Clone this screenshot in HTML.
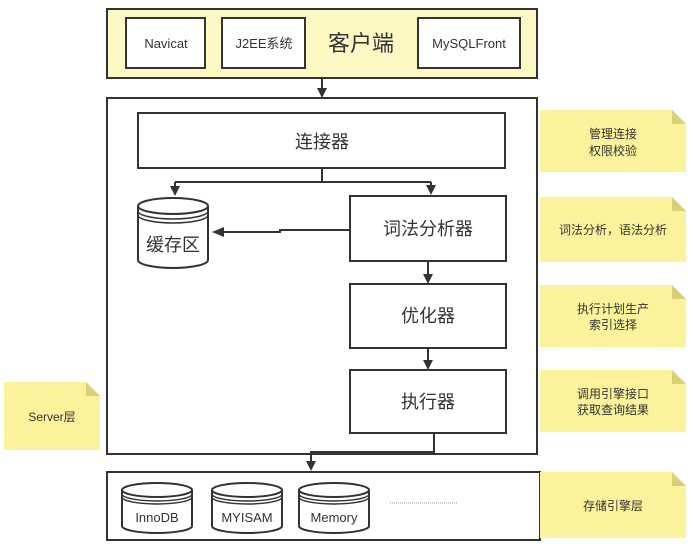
<!DOCTYPE html>
<html><head><meta charset="utf-8"><style>
html,body{margin:0;padding:0;background:#fff;width:694px;height:548px;overflow:hidden}
svg text{font-family:"Liberation Sans","Noto Sans CJK SC",sans-serif;fill:#333;text-anchor:middle}
</style></head><body>
<svg width="694" height="548" viewBox="0 0 694 548" xmlns="http://www.w3.org/2000/svg">
<g stroke="#333" stroke-width="2" fill="none">
<rect x="107" y="9" width="430" height="69" fill="#fdf8c4"/>
<rect x="126" y="18" width="79" height="50" fill="#fff"/>
<rect x="222" y="18" width="83" height="50" fill="#fff"/>
<rect x="418" y="18" width="102" height="50" fill="#fff"/>
<rect x="107" y="98" width="430" height="356" fill="#fff"/>
<rect x="138" y="113" width="367" height="55"/>
<rect x="350" y="196" width="156" height="65"/>
<rect x="350" y="284" width="156" height="64"/>
<rect x="350" y="370" width="156" height="63"/>
<rect x="107" y="472" width="433" height="68"/>
<line x1="322" y1="78" x2="322" y2="90"/>
<polyline points="322,168 322,182"/>
<line x1="175" y1="182" x2="431" y2="182"/>
<line x1="175" y1="182" x2="175" y2="188"/>
<line x1="431" y1="182" x2="431" y2="187"/>
<polyline points="350,230 280,230 280,232 222,232"/>
<line x1="428" y1="261" x2="428" y2="276"/>
<line x1="428" y1="348" x2="428" y2="362"/>
<polyline points="434,433 434,452 311,452 311,462"/>
</g>
<g fill="#333">
<path d="M317,88 L327,88 L322,98 z"/>
<path d="M170,186 L180,186 L175,196 z"/>
<path d="M426,185 L436,185 L431,195 z"/>
<path d="M212,232 L224,227 L224,237 z"/>
<path d="M423,274 L433,274 L428,284 z"/>
<path d="M423,360 L433,360 L428,370 z"/>
<path d="M306,461 L316,461 L311,471 z"/>
</g>
<g stroke="#333" stroke-width="2" fill="#fff">
<path d="M138,206 L138,260 A35,8 0 0 0 208,260 L208,206"/>
<ellipse cx="173" cy="206" rx="35" ry="8"/>
<path d="M138,211 A35,8 0 0 0 208,211 M138,215 A35,8 0 0 0 208,215" fill="none" stroke-width="1.5"/>
<path d="M122,490 L122,526 A35,7 0 0 0 192,526 L192,490"/>
<ellipse cx="157" cy="490" rx="35" ry="7"/>
<path d="M122,494 A35,7 0 0 0 192,494 M122,497 A35,7 0 0 0 192,497" fill="none" stroke-width="1.5"/>
<path d="M212,490 L212,526 A35,7 0 0 0 282,526 L282,490"/>
<ellipse cx="247" cy="490" rx="35" ry="7"/>
<path d="M212,494 A35,7 0 0 0 282,494 M212,497 A35,7 0 0 0 282,497" fill="none" stroke-width="1.5"/>
<path d="M299,490 L299,526 A35,7 0 0 0 369,526 L369,490"/>
<ellipse cx="334" cy="490" rx="35" ry="7"/>
<path d="M299,494 A35,7 0 0 0 369,494 M299,497 A35,7 0 0 0 369,497" fill="none" stroke-width="1.5"/>
</g>
<line x1="390" y1="503" x2="458" y2="503" stroke="#999" stroke-width="1" stroke-dasharray="1,1"/>
<g fill="#fbf29c">
<path d="M540,110 L672,110 L686,124 L686,172 L540,172 z"/>
<path d="M540,197 L672,197 L686,211 L686,262 L540,262 z"/>
<path d="M540,285 L672,285 L686,299 L686,347 L540,347 z"/>
<path d="M540,370 L672,370 L686,384 L686,432 L540,432 z"/>
<path d="M540,472 L672,472 L686,486 L686,538 L540,538 z"/>
<path d="M4,382 L86,382 L100,396 L100,450 L4,450 z"/>
</g>
<g fill="#d8cf78">
<path d="M672,110 L686,124 L672,124 z"/><path d="M672,197 L686,211 L672,211 z"/>
<path d="M672,285 L686,299 L672,299 z"/><path d="M672,370 L686,384 L672,384 z"/>
<path d="M672,472 L686,486 L672,486 z"/><path d="M86,382 L100,396 L86,396 z"/>
</g>
<text x="166" y="48" font-size="13">Navicat</text>
<text x="264" y="48" font-size="13">J2EE系统</text>
<text x="361" y="51" font-size="22">客户端</text>
<text x="469" y="48" font-size="13">MySQLFront</text>
<text x="322" y="148" font-size="18">连接器</text>
<text x="428" y="235" font-size="18">词法分析器</text>
<text x="428" y="322" font-size="18">优化器</text>
<text x="428" y="408" font-size="18">执行器</text>
<text x="173" y="251" font-size="18">缓存区</text>
<text x="157" y="522" font-size="13">InnoDB</text>
<text x="247" y="522" font-size="13">MYISAM</text>
<text x="334" y="522" font-size="13">Memory</text>
<g font-size="12">
<text x="613" y="138">管理连接</text><text x="613" y="155">权限校验</text>
<text x="613" y="234">词法分析，语法分析</text>
<text x="613" y="313">执行计划生产</text><text x="613" y="329">索引选择</text>
<text x="613" y="398">调用引擎接口</text><text x="613" y="414">获取查询结果</text>
<text x="613" y="510">存储引擎层</text>
<text x="52" y="421">Server层</text>
</g>
</svg>
</body></html>
